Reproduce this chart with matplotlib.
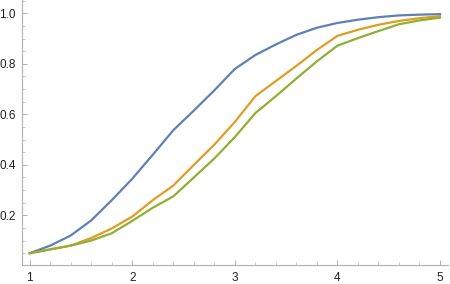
import numpy as np
import matplotlib
matplotlib.use('Agg')
import matplotlib.pyplot as plt
from matplotlib.ticker import MultipleLocator

x = [1.0, 1.2, 1.4, 1.6, 1.8, 2.0, 2.2, 2.4, 2.6, 2.8, 3.0,
     3.2, 3.4, 3.6, 3.8, 4.0, 4.2, 4.4, 4.6, 4.8, 5.0]
blue = [0.05, 0.08, 0.12, 0.18, 0.26, 0.345, 0.44, 0.537, 0.615, 0.695, 0.78,
        0.835, 0.877, 0.915, 0.943, 0.962, 0.975, 0.985, 0.992, 0.995, 0.997]
orange = [0.05, 0.065, 0.08, 0.11, 0.148, 0.195, 0.26, 0.318, 0.40, 0.48, 0.57,
          0.672, 0.732, 0.792, 0.855, 0.911, 0.935, 0.955, 0.970, 0.981, 0.989]
green = [0.05, 0.065, 0.08, 0.10, 0.129, 0.178, 0.23, 0.275, 0.35, 0.425, 0.51,
         0.605, 0.672, 0.742, 0.81, 0.872, 0.902, 0.93, 0.957, 0.972, 0.983]
xticks = [1, 2, 3, 4, 5]
yticks = [0.2, 0.4, 0.6, 0.8, 1.0]

plt.rcParams['font.family'] = ['Liberation Sans', 'DejaVu Sans']

W, H = 450, 284
fig = plt.figure(figsize=(W / 100, H / 100), dpi=100)
left, right, bottom, top = 21.5, 448.2, 265.3, 0.0
ax = fig.add_axes([left / W, 1 - bottom / H, (right - left) / W, (bottom - top) / H])

ax.plot(x, blue, color='#5E81B5', lw=1.6, solid_joinstyle='round')
ax.plot(x, orange, color='#E19C24', lw=1.6, solid_joinstyle='round')
ax.plot(x, green, color='#8FB032', lw=1.6, solid_joinstyle='round')

ax.set_xlim(0.92, 5.08)
ax.set_ylim(0.002, 1.053)

for s in ['top', 'right']:
    ax.spines[s].set_visible(False)
for s in ['left', 'bottom']:
    ax.spines[s].set_color('#b0b0b0')
    ax.spines[s].set_linewidth(0.8)

ax.set_xticks(xticks)
ax.set_xticklabels([str(t) for t in xticks])
ax.xaxis.set_minor_locator(MultipleLocator(0.2))
ax.set_yticks(yticks)
ax.set_yticklabels([f'{t:.1f}' for t in yticks])
ax.yaxis.set_minor_locator(MultipleLocator(0.05))

ax.tick_params(which='major', direction='in', length=3.5, width=0.7,
               color='#b0b0b0', labelsize=8.5, labelcolor='#222222')
ax.tick_params(which='minor', direction='in', length=2, width=0.6, color='#c0c0c0')
ax.tick_params(axis='y', pad=4)
ax.tick_params(axis='x', pad=5)

fig.savefig('out.png', dpi=100)
